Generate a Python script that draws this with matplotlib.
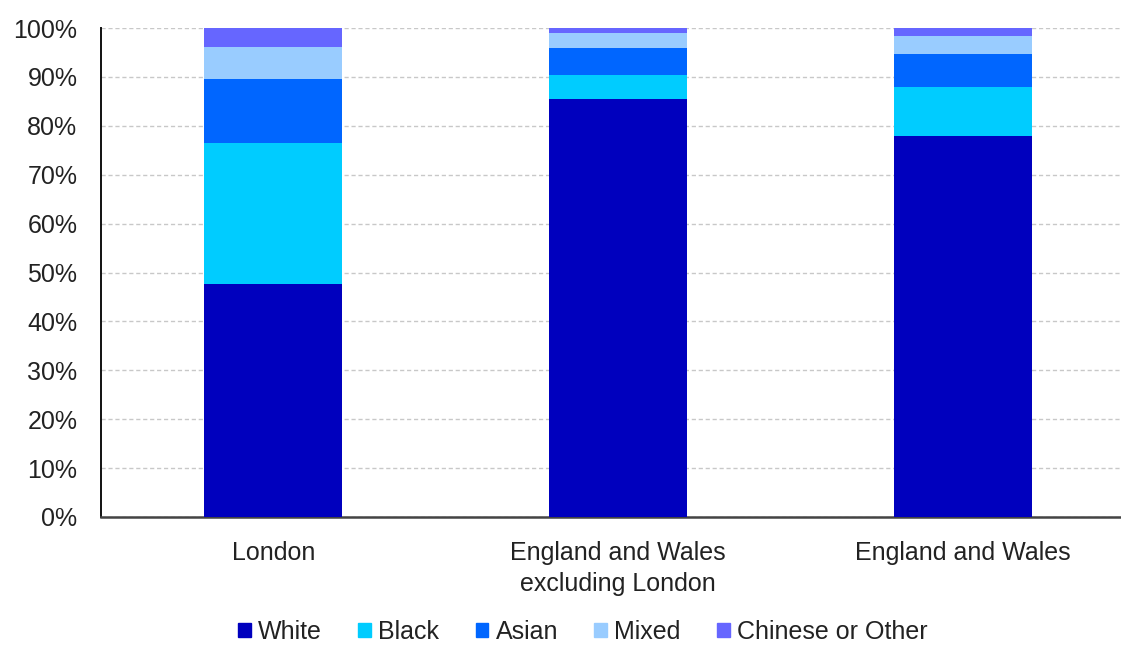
import matplotlib.pyplot as plt
import numpy as np
from matplotlib.patches import Patch
from matplotlib.ticker import PercentFormatter

plt.rcParams['font.family'] = ['Liberation Sans', 'DejaVu Sans']

categories = ['London', 'England and Wales\nexcluding London', 'England and Wales']
groups = ['White', 'Black', 'Asian', 'Mixed', 'Chinese or Other']
white = [47.6, 85.5, 77.9]
black = [28.9, 4.9, 10.0]
asian = [13.1, 5.5, 6.8]
mixed = [6.5, 3.1, 3.7]
other = [3.9, 1.0, 1.6]
colours = ['#0000BE', '#00CCFF', '#0066FF', '#99CCFF', '#6666FF']


def draw(filename):
    fig = plt.figure(figsize=(11.21, 6.45), dpi=100)
    # axes run past the right edge, the reference is cropped there
    ax = fig.add_axes([101 / 1121, 1 - 517 / 645, 1034 / 1121, 489 / 645])

    x = np.arange(len(categories))
    bottom = np.zeros(len(categories))
    for vals, col in zip([white, black, asian, mixed, other], colours):
        ax.bar(x, vals, width=0.4, bottom=bottom, color=col, linewidth=0, zorder=3)
        bottom += np.array(vals)

    ax.set_xlim(-0.5, 2.5)
    ax.set_ylim(0, 100)
    ax.set_yticks(np.arange(0, 101, 10))
    ax.yaxis.set_major_formatter(PercentFormatter(decimals=0))
    ax.set_xticks(x)
    ax.set_xticklabels(categories, linespacing=1.4)
    ax.tick_params(axis='both', length=0, labelsize=18, colors='#222222')
    ax.tick_params(axis='y', pad=17)
    ax.tick_params(axis='x', pad=17)

    ax.grid(axis='y', color='#c8c8c8', linestyle=(0, (3, 2)), linewidth=1, zorder=0)
    for side in ['top', 'right']:
        ax.spines[side].set_visible(False)
    ax.spines['left'].set_color('#111111')
    ax.spines['left'].set_linewidth(1.4)
    ax.spines['bottom'].set_color('#444444')
    ax.spines['bottom'].set_linewidth(1.8)

    handles = [Patch(color=c, label=g) for c, g in zip(colours, groups)]
    fig.legend(handles=handles, loc='center', bbox_to_anchor=(583 / 1121, 1 - 632 / 645),
               ncol=5, frameon=False, fontsize=18, handlelength=0.5, handleheight=0.5,
               handletextpad=0.3, columnspacing=1.45, labelcolor='#222222')

    fig.savefig(filename, dpi=100)
    plt.close(fig)


draw('out.png')
